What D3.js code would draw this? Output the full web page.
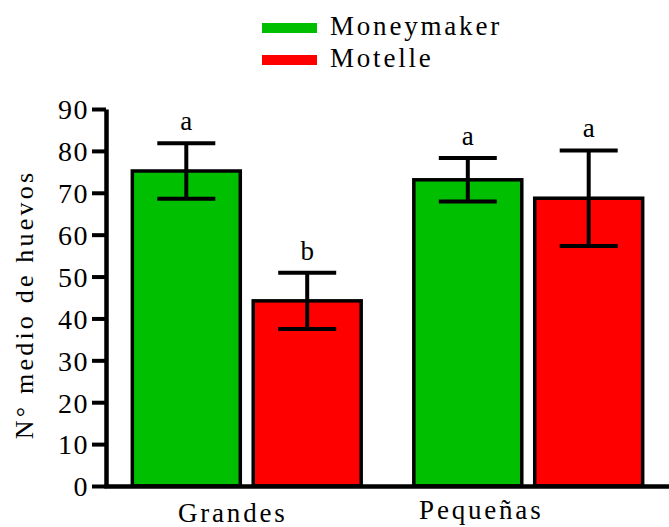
<!DOCTYPE html>
<html>
<head>
<meta charset="utf-8">
<script src="https://cdn.jsdelivr.net/npm/d3@7"></script>
<style>
  html, body { margin: 0; padding: 0; background: #fff; }
  svg { display: block; }
</style>
</head>
<body>
<svg id="chart" width="669" height="527"></svg>
<script>
// Mean egg counts per plant size and tomato variety
const groups = ["Grandes", "Pequeñas"];
const series = ["Moneymaker", "Motelle"];
const colors = ["#00bf00", "#ff0000"];
const moneymaker = [75.2, 73.1];
const motelle = [44.2, 68.7];
const moneymakerErr = [6.6, 5.2];
const motelleErr = [6.7, 11.4];
const moneymakerLetters = ["a", "a"];
const motelleLetters = ["b", "a"];
const yTicks = [0, 10, 20, 30, 40, 50, 60, 70, 80, 90];

const rows = [];
groups.forEach((g, i) => {
  rows.push({ group: g, series: series[0], value: moneymaker[i], err: moneymakerErr[i], letter: moneymakerLetters[i], color: colors[0] });
  rows.push({ group: g, series: series[1], value: motelle[i], err: motelleErr[i], letter: motelleLetters[i], color: colors[1] });
});

const FONT = "Liberation Serif";
const svg = d3.select("#chart").attr("font-family", FONT);
const axisX = 106, plotRight = 669, plotTop = 109, plotBottom = 486;
const fs = 27, ls = 2.8;

const y = d3.scaleLinear().domain([0, 90]).range([plotBottom, plotTop]);
const x0 = d3.scaleBand().domain(groups).range([axisX, plotRight])
  .paddingInner(0.187).paddingOuter(0.0935);
const x1 = d3.scaleBand().domain(series).range([0, x0.bandwidth()])
  .paddingInner(0.107).paddingOuter(0);

// Bars
const g = svg.append("g");
g.selectAll("rect.bar").data(rows).join("rect")
  .attr("class", "bar")
  .attr("x", d => x0(d.group) + x1(d.series))
  .attr("y", d => y(d.value))
  .attr("width", x1.bandwidth())
  .attr("height", d => y(0) - y(d.value))
  .attr("fill", d => d.color)
  .attr("stroke", "#000")
  .attr("stroke-width", 3.5);

// Error bars
const capHalf = 29;
const eb = g.selectAll("g.err").data(rows).join("g").attr("class", "err")
  .attr("transform", d => `translate(${x0(d.group) + x1(d.series) + x1.bandwidth() / 2},0)`);
eb.append("line")
  .attr("y1", d => y(d.value + d.err)).attr("y2", d => y(d.value - d.err))
  .attr("stroke", "#000").attr("stroke-width", 4);
eb.append("line")
  .attr("x1", -capHalf).attr("x2", capHalf)
  .attr("y1", d => y(d.value + d.err)).attr("y2", d => y(d.value + d.err))
  .attr("stroke", "#000").attr("stroke-width", 4);
eb.append("line")
  .attr("x1", -capHalf).attr("x2", capHalf)
  .attr("y1", d => y(d.value - d.err)).attr("y2", d => y(d.value - d.err))
  .attr("stroke", "#000").attr("stroke-width", 4);

// Significance letters
eb.append("text")
  .attr("y", d => y(d.value + d.err) - 13)
  .attr("text-anchor", "middle")
  .attr("font-family", FONT)
  .attr("font-size", fs)
  .text(d => d.letter);

// Y axis
const yAxis = svg.append("g")
  .attr("transform", `translate(${axisX},0)`)
  .call(d3.axisLeft(y).tickValues(yTicks).tickSize(14).tickPadding(3).tickSizeOuter(0));
yAxis.attr("font-family", FONT).attr("font-size", 28);
yAxis.select(".domain").attr("stroke", "#000").attr("stroke-width", 4.5);
yAxis.selectAll(".tick line").attr("stroke", "#000").attr("stroke-width", 4);
yAxis.selectAll(".tick text")
  .attr("font-family", FONT)
  .attr("font-size", 28)
  .attr("letter-spacing", 1.5)
  .attr("dy", "0.35em")
  .attr("fill", "#000");

// X axis baseline
const xAxis = svg.append("g")
  .attr("transform", `translate(0,${plotBottom})`)
  .call(d3.axisBottom(d3.scaleLinear().domain([0, 1]).range([axisX - 2, plotRight])).tickValues([]).tickSizeOuter(0));
xAxis.select(".domain").attr("stroke", "#000").attr("stroke-width", 4.5);

// Group labels
const labelShift = { "Grandes": -14, "Pequeñas": -47 };
const labelBase = { "Grandes": 522, "Pequeñas": 519 };
svg.selectAll("text.grp").data(groups).join("text")
  .attr("class", "grp")
  .attr("x", d => x0(d) + x0.bandwidth() / 2 + labelShift[d])
  .attr("y", d => labelBase[d])
  .attr("text-anchor", "middle")
  .attr("font-family", FONT)
  .attr("font-size", fs)
  .attr("letter-spacing", ls)
  .text(d => d);

// Y axis title
svg.append("text")
  .attr("transform", `translate(33,${(plotTop + plotBottom) / 2 + 7}) rotate(-90)`)
  .attr("text-anchor", "middle")
  .attr("font-family", FONT)
  .attr("font-size", 26)
  .attr("letter-spacing", 3.2)
  .text("N° medio de huevos");

// Legend
const legend = svg.append("g").attr("transform", "translate(262,0)");
const li = legend.selectAll("g").data(series).join("g")
  .attr("transform", (d, i) => `translate(0,${28 + i * 32})`);
li.append("rect")
  .attr("x", 0).attr("y", -5).attr("width", 55).attr("height", 10)
  .attr("fill", (d, i) => colors[i]);
li.append("text")
  .attr("x", 68).attr("y", 7)
  .attr("font-family", FONT)
  .attr("font-size", fs)
  .attr("letter-spacing", ls)
  .text(d => d);
</script>
</body>
</html>
